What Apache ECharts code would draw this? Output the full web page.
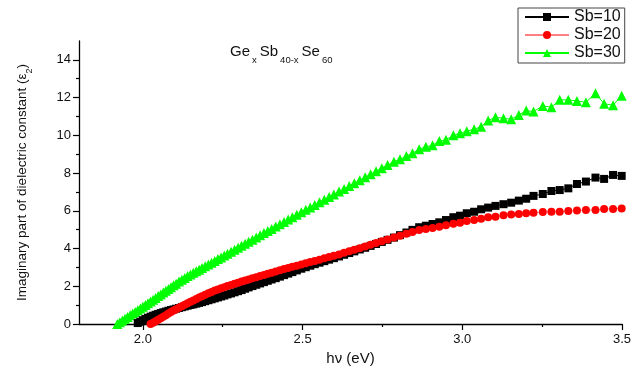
<!DOCTYPE html>
<html><head><meta charset="utf-8">
<script src="https://cdn.jsdelivr.net/npm/echarts@6/dist/echarts.min.js"></script>
<style>html,body{margin:0;padding:0;background:#fff}#c{width:636px;height:373px}</style>
</head><body><div id="c"></div>
<script>
const energy = [
1.920,1.928,1.936,1.944,1.952,1.960,1.968,1.976,1.984,1.992,
2.000,2.008,2.016,2.024,2.032,2.040,2.048,2.056,2.064,2.072,
2.080,2.088,2.096,2.104,
2.113,2.122,2.131,2.140,2.149,2.158,2.167,2.176,2.185,
2.195,2.205,2.215,2.225,2.235,2.245,2.255,2.265,
2.276,2.287,2.298,2.309,2.320,2.331,
2.343,2.355,2.367,2.379,2.391,2.403,
2.416,2.429,2.442,2.455,2.468,
2.482,2.496,2.510,2.524,2.538,
2.553,2.568,2.583,2.598,
2.614,2.630,2.646,
2.662,2.679,2.696,2.713,2.730,
2.748,2.766,2.786,2.805,2.825,2.844,2.865,2.886,2.907,2.928,
2.949,2.972,2.993,3.014,3.037,3.059,3.081,3.104,3.129,3.153,
3.177,3.200,3.223,3.252,3.279,3.305,3.332,3.359,3.387,3.417,
3.444,3.472,3.499];

const sb10 = [
null,null,null,null,null,null,null,null,0.05,0.12,
0.20,0.27,0.33,0.39,0.44,0.49,0.53,0.58,0.62,0.66,
0.70,0.74,0.77,0.81,
0.85,0.89,0.93,0.97,1.01,1.04,1.08,1.12,1.16,
1.21,1.26,1.31,1.36,1.41,1.46,1.51,1.57,
1.62,1.68,1.74,1.80,1.87,1.94,
2.01,2.08,2.15,2.22,2.29,2.36,
2.43,2.51,2.59,2.67,2.75,
2.84,2.93,3.01,3.09,3.17,
3.25,3.33,3.41,3.49,
3.58,3.67,3.76,
3.85,3.95,4.04,4.14,4.24,
4.35,4.46,4.58,4.71,4.85,4.99,5.13,5.21,5.30,5.39,
5.51,5.66,5.74,5.87,5.95,6.08,6.17,6.26,6.35,6.43,
6.54,6.64,6.79,6.89,7.05,7.10,7.19,7.42,7.55,7.76,
7.69,7.90,7.85];

const sb20 = [
null,null,null,null,null,null,null,null,null,null,
null,null,null,0.00,0.06,0.14,0.22,0.31,0.39,0.47,
0.55,0.63,0.71,0.78,
0.86,0.94,1.02,1.10,1.18,1.25,1.33,1.40,1.47,
1.55,1.63,1.70,1.77,1.83,1.89,1.95,2.01,
2.07,2.13,2.19,2.25,2.30,2.36,
2.42,2.48,2.54,2.60,2.66,2.72,
2.78,2.85,2.91,2.97,3.03,
3.09,3.16,3.22,3.28,3.34,
3.41,3.48,3.55,3.62,
3.69,3.77,3.85,
3.93,4.02,4.11,4.20,4.29,
4.38,4.48,4.58,4.68,4.78,4.88,4.98,5.04,5.09,5.16,
5.23,5.32,5.37,5.46,5.51,5.58,5.66,5.69,5.76,5.81,
5.83,5.87,5.90,5.94,5.95,5.95,5.99,6.01,6.04,6.04,
6.10,6.10,6.12];

const sb30 = [
0.00,0.09,0.18,0.28,0.37,0.46,0.55,0.64,0.73,0.82,
0.92,1.01,1.10,1.19,1.29,1.38,1.48,1.57,1.67,1.76,
1.86,1.95,2.05,2.14,
2.25,2.35,2.44,2.54,2.63,2.71,2.80,2.88,2.97,
3.06,3.15,3.25,3.34,3.44,3.53,3.63,3.72,
3.83,3.93,4.04,4.15,4.25,4.36,
4.47,4.59,4.70,4.82,4.93,5.04,
5.17,5.29,5.41,5.54,5.66,
5.79,5.92,6.05,6.18,6.31,
6.45,6.59,6.73,6.87,
7.02,7.16,7.31,
7.46,7.62,7.78,7.94,8.10,
8.26,8.43,8.60,8.73,8.90,9.05,9.26,9.40,9.47,9.70,
9.76,10.00,10.11,10.22,10.32,10.46,10.78,10.96,10.90,10.85,
11.08,11.31,11.26,11.56,11.49,11.88,11.88,11.82,11.75,12.23,
11.67,11.60,12.10];

const seriesNames = ['Sb=10','Sb=20','Sb=30'];
const xMajorTicks = [2.0, 2.5, 3.0, 3.5];
const xMinorTicks = [2.25, 2.75, 3.25];
const yMajorTicks = [0, 2, 4, 6, 8, 10, 12, 14];
const yMinorTicks = [1, 3, 5, 7, 9, 11, 13];

function pairs(arr){
  const out = [];
  energy.forEach((e,i)=>{ if(arr[i] !== null) out.push([e, arr[i]]); });
  return out;
}

const FONT = 'Liberation Sans, Arial, sans-serif';
const chart = echarts.init(document.getElementById('c'), null, {renderer:'canvas'});

const axisLineStyle = {show:true, lineStyle:{color:'#000', width:1.3}};

chart.setOption({
  animation:false,
  backgroundColor:'#fff',
  title:{
    text:'{n|Ge}{s|x}{n|Sb}{s|40-x}{n|Se}{s|60}',
    left:224, top:34,
    textStyle:{
      fontWeight:'normal',
      rich:{
        n:{fontSize:15, fontWeight:'normal', fontFamily:FONT, color:'#111', lineHeight:20, verticalAlign:'bottom', padding:[0,1,0,1]},
        s:{fontSize:9.5, fontWeight:'normal', fontFamily:FONT, color:'#111', lineHeight:20, verticalAlign:'bottom', padding:[0,2,-6,1]}
      }
    }
  },
  legend:{
    orient:'vertical', left:518, top:8,
    padding:[1,4,2,6],
    itemWidth:44, itemHeight:10, itemGap:2,
    borderColor:'#444', borderWidth:1,
    textStyle:{fontSize:16, fontFamily:FONT, color:'#111', lineHeight:16},
    data:seriesNames
  },
  grid:{left:79, right:14, top:41, bottom:49, containLabel:false},
  xAxis:[{
    type:'value', min:1.8, max:3.5,
    axisLine:axisLineStyle,
    axisTick:{show:true, customValues:xMajorTicks, length:6, lineStyle:{color:'#000', width:1.2}},
    axisLabel:{customValues:xMajorTicks, formatter:v=>v.toFixed(1), fontSize:13, fontFamily:FONT, color:'#111', margin:9},
    splitLine:{show:false},
    name:'hν (eV)', nameLocation:'middle', nameGap:25,
    nameTextStyle:{fontSize:15, fontFamily:FONT, color:'#111'}
  },{
    type:'value', min:1.8, max:3.5, position:'bottom',
    axisLine:{show:false},
    axisTick:{show:true, customValues:xMinorTicks, length:3, lineStyle:{color:'#000', width:1.2}},
    axisLabel:{show:false}, splitLine:{show:false}
  }],
  yAxis:[{
    type:'value', min:0, max:15,
    axisLine:axisLineStyle,
    axisTick:{show:true, customValues:yMajorTicks, length:6, lineStyle:{color:'#000', width:1.2}},
    axisLabel:{customValues:yMajorTicks, fontSize:13, fontFamily:FONT, color:'#111', margin:8},
    splitLine:{show:false},
    name:'{a|Imaginary part of dielectric constant (ε}{s|2}{a|)}',
    nameLocation:'middle', nameGap:50, nameRotate:90,
    nameTextStyle:{
      rich:{
        a:{fontSize:13.5, fontFamily:'Liberation Sans Narrow, Liberation Sans, Arial, sans-serif', color:'#111', lineHeight:18, verticalAlign:'bottom'},
        s:{fontSize:9, fontFamily:FONT, color:'#111', lineHeight:18, verticalAlign:'bottom', padding:[0,0,-5,0]}
      }
    }
  },{
    type:'value', min:0, max:15, position:'left',
    axisLine:{show:false},
    axisTick:{show:true, customValues:yMinorTicks, length:3, lineStyle:{color:'#000', width:1.2}},
    axisLabel:{show:false}, splitLine:{show:false}
  }],
  series:[
    {name:seriesNames[0], type:'line', data:pairs(sb10), symbol:'rect', symbolSize:8,
     lineStyle:{color:'#000', width:1}, itemStyle:{color:'#000'}, z:3},
    {name:seriesNames[1], type:'line', data:pairs(sb20), symbol:'circle', symbolSize:8,
     lineStyle:{color:'#ff8080', width:1}, itemStyle:{color:'#ff0000'}, z:4},
    {name:seriesNames[2], type:'line', data:pairs(sb30), symbol:'triangle', symbolSize:10,
     lineStyle:{color:'#00ff00', width:1}, itemStyle:{color:'#00ff00'}, z:2}
  ]
});
</script></body></html>
